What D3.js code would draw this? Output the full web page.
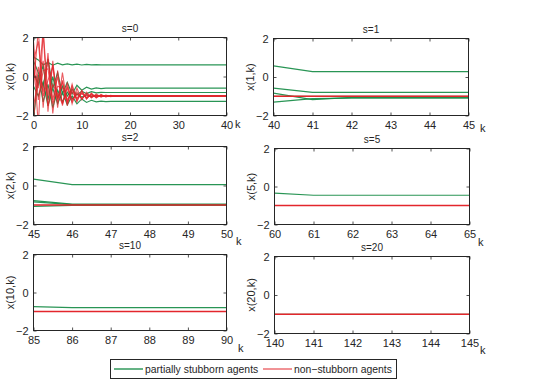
<!DOCTYPE html>
<html>
<head>
<meta charset="utf-8">
<script src="https://cdn.jsdelivr.net/npm/d3@7"></script>
<style>
  body { margin: 0; background: #fff; }
  text { font-family: "Liberation Sans", Arial, Helvetica, sans-serif; fill: #262626; }
</style>
</head>
<body>
<svg id="chart" width="545" height="386"></svg>
<script>
// data
const titles  = ["s=0", "s=1", "s=2", "s=5", "s=10", "s=20"];
const yLabels = ["x(0,k)", "x(1,k)", "x(2,k)", "x(5,k)", "x(10,k)", "x(20,k)"];
const yTicks  = [-2, 0, 2];
const xTicks  = [
  [0, 10, 20, 30, 40],
  [40, 41, 42, 43, 44, 45],
  [45, 46, 47, 48, 49, 50],
  [60, 61, 62, 63, 64, 65],
  [85, 86, 87, 88, 89, 90],
  [140, 141, 142, 143, 144, 145]
];

// k values of each panel
const k0  = [0, 1, 2, 3, 4, 5, 6, 7, 8, 9, 10, 11, 12, 13, 14, 15, 16, 17, 18, 19, 20, 40];
const k1  = [40, 41, 42, 43, 44, 45];
const k2  = [45, 46, 47, 48, 49, 50];
const k5  = [60, 61, 62, 63, 64, 65];
const k10 = [85, 86, 87, 88, 89, 90];
const k20 = [140, 141, 142, 143, 144, 145];

// s=0
const green0 = [
  [1.0, 0.85, 0.6, 0.72, 0.58, 0.68, 0.6, 0.65, 0.6, 0.63, 0.59, 0.62, 0.6, 0.61, 0.6, 0.6, 0.6, 0.6, 0.6, 0.6, 0.6, 0.6],
  [0.8, 0.2, -0.5, 0.9, -0.6, 0.2, -0.9, -0.3, -0.9, -0.45, -0.7, -0.55, -0.65, -0.58, -0.62, -0.6, -0.6, -0.6, -0.6, -0.6, -0.6, -0.6],
  [0.2, -0.4, 0.6, -1.2, 0.0, -1.1, -0.5, -1.0, -0.65, -0.95, -0.75, -0.88, -0.78, -0.84, -0.81, -0.82, -0.82, -0.82, -0.82, -0.82, -0.82, -0.82],
  [-0.5, -1.0, -0.3, -1.5, -0.6, -1.4, -0.8, -1.45, -1.0, -1.4, -1.15, -1.33, -1.22, -1.3, -1.26, -1.29, -1.28, -1.28, -1.28, -1.28, -1.28, -1.28],
  [-2.2, 0.1, -1.3, -0.4, -1.6, -0.7, -1.3, -0.8, -1.15, -0.9, -1.05, -0.95, -1.02, -0.98, -1.0, -1.0, -1.0, -1.0, -1.0, -1.0, -1.0, -1.0]
];
const red0 = [
  [1.0, -2.5, 2.3, -1.8, 0.8, -1.6, 0.2, -1.4, -0.4, -1.3, -0.7, -1.15, -0.85, -1.1, -0.92, -1.05, -0.97, -1.02, -0.99, -1.0, -1.0, -1.0],
  [-0.5, 2.4, -1.6, 1.2, -1.9, 0.3, -1.5, -0.3, -1.4, -0.6, -1.2, -0.8, -1.1, -0.9, -1.06, -0.95, -1.03, -0.98, -1.01, -1.0, -1.0, -1.0],
  [0.3, -0.6, 2.4, -1.0, 0.6, -1.3, -0.2, -1.5, -0.5, -1.25, -0.75, -1.15, -0.88, -1.08, -0.95, -1.04, -0.98, -1.01, -1.0, -1.0, -1.0, -1.0],
  [-2.3, 0.5, -0.8, 0.9, -1.2, 0.0, -1.4, -0.6, -1.3, -0.8, -1.15, -0.9, -1.07, -0.95, -1.03, -0.98, -1.01, -1.0, -1.0, -1.0, -1.0, -1.0],
  [0.8, 1.8, -1.0, -0.2, 0.5, -1.1, -0.3, -1.2, -0.7, -1.1, -0.85, -1.08, -0.93, -1.04, -0.97, -1.02, -0.99, -1.0, -1.0, -1.0, -1.0, -1.0],
  [-1.5, -0.2, 0.8, -1.5, -0.4, -0.9, -1.4, -0.5, -1.2, -0.9, -1.12, -0.93, -1.05, -0.97, -1.02, -0.99, -1.0, -1.0, -1.0, -1.0, -1.0, -1.0],
  [1.8, -1.2, 0.3, 0.4, -1.4, -0.5, -0.6, -1.3, -0.8, -1.15, -0.88, -1.07, -0.95, -1.03, -0.98, -1.01, -1.0, -1.0, -1.0, -1.0, -1.0, -1.0]
];
// s=1
const green1 = [
  [0.58, 0.28, 0.28, 0.28, 0.28, 0.28],
  [-0.58, -0.8, -0.8, -0.8, -0.8, -0.8],
  [-0.84, -1.18, -1.06, -1.06, -1.06, -1.06],
  [-1.31, -1.12, -1.1, -1.1, -1.1, -1.1],
  [-1.0, -1.0, -1.0, -1.0, -1.0, -1.0]
];
const red1 = [[-1.0, -1.0, -1.0, -1.0, -1.0, -1.0]];
// s=2
const green2 = [
  [0.33, 0.05, 0.05, 0.05, 0.05, 0.05],
  [-0.78, -0.95, -0.95, -0.95, -0.95, -0.95],
  [-0.84, -0.98, -0.98, -0.98, -0.98, -0.98],
  [-1.07, -1.02, -1.02, -1.02, -1.02, -1.02]
];
const red2 = [[-1.0, -1.0, -1.0, -1.0, -1.0, -1.0]];
// s=5
const green5 = [
  [-0.35, -0.46, -0.46, -0.46, -0.46, -0.46],
  [-1.0, -1.0, -1.0, -1.0, -1.0, -1.0]
];
const red5 = [[-1.0, -1.0, -1.0, -1.0, -1.0, -1.0]];
// s=10
const green10 = [
  [-0.74, -0.8, -0.8, -0.8, -0.8, -0.8],
  [-1.0, -1.0, -1.0, -1.0, -1.0, -1.0]
];
const red10 = [[-1.0, -1.0, -1.0, -1.0, -1.0, -1.0]];
// s=20
const green20 = [[-1.0, -1.0, -1.0, -1.0, -1.0, -1.0]];
const red20   = [[-1.0, -1.0, -1.0, -1.0, -1.0, -1.0]];

const panelK     = [k0, k1, k2, k5, k10, k20];
const panelGreen = [green0, green1, green2, green5, green10, green20];
const panelRed   = [red0, red1, red2, red5, red10, red20];

const legendLabels = ["partially stubborn agents", "non\u2212stubborn agents"];

// layout: [left, top, right, bottom] in px
const boxes = [
  [33.5, 37.5, 226.5, 115.5],
  [273.5, 38.5, 468.5, 115.5],
  [33.5, 146.5, 226.5, 224.5],
  [274.5, 148.5, 469.5, 224.5],
  [33.5, 254.5, 226.5, 330.5],
  [274.5, 256.5, 469.5, 333.5]
];
const kLabelPos = [[235, 128], [480, 132], [236, 245], [478, 246], [238, 352], [480, 354]];

const GREEN = "#128a43",
      RED   = "#e3262c",
      AXIS  = "#262626";

const svg = d3.select("#chart");
const fmtY = d3.format("d");

boxes.forEach((b, i) => {
  const [x0, y0, x1, y1] = b;
  const ks = panelK[i];
  const x = d3.scaleLinear().domain([xTicks[i][0], xTicks[i][xTicks[i].length - 1]]).range([x0, x1]);
  const y = d3.scaleLinear().domain([-2, 2]).range([y1, y0]);

  const g = svg.append("g");

  g.append("clipPath").attr("id", "clip" + i)
    .append("rect")
      .attr("x", x0).attr("y", y0)
      .attr("width", x1 - x0).attr("height", y1 - y0);

  const line = d3.line()
    .x((d, j) => x(ks[j]))
    .y(d => y(d));

  const plot = g.append("g").attr("clip-path", `url(#clip${i})`);

  plot.selectAll("path.green")
    .data(panelGreen[i])
    .join("path")
      .attr("class", "green")
      .attr("d", line)
      .attr("fill", "none")
      .attr("stroke", GREEN)
      .attr("stroke-width", 1.2)
      .attr("stroke-opacity", 0.9);

  plot.selectAll("path.red")
    .data(panelRed[i])
    .join("path")
      .attr("class", "red")
      .attr("d", line)
      .attr("fill", "none")
      .attr("stroke", RED)
      .attr("stroke-width", i === 0 ? 1.1 : 1.4)
      .attr("stroke-opacity", i === 0 ? 0.75 : 1);

  // axes (inward ticks, box on)
  const bottom = d3.axisBottom(x).tickValues(xTicks[i]).tickSizeInner(-3).tickSizeOuter(0).tickPadding(6)
                   .tickFormat(d3.format("d"));
  const top    = d3.axisTop(x).tickValues(xTicks[i]).tickSizeInner(-3).tickSizeOuter(0).tickFormat("");
  const left   = d3.axisLeft(y).tickValues(yTicks).tickSizeInner(-3).tickSizeOuter(0).tickPadding(5)
                   .tickFormat(d => d < 0 ? "\u2212" + Math.abs(d) : fmtY(d));
  const right  = d3.axisRight(y).tickValues(yTicks).tickSizeInner(-3).tickSizeOuter(0).tickFormat("");

  const axes = [
    g.append("g").attr("transform", `translate(0,${y1})`).call(bottom),
    g.append("g").attr("transform", `translate(0,${y0})`).call(top),
    g.append("g").attr("transform", `translate(${x0},0)`).call(left),
    g.append("g").attr("transform", `translate(${x1},0)`).call(right)
  ];
  axes.forEach(a => {
    a.select(".domain").remove();
    a.selectAll("line").attr("stroke", AXIS).attr("stroke-width", 0.8);
    a.selectAll("text").attr("fill", AXIS).style("font-size", "11px")
      .style("font-family", "'Liberation Sans', Arial, sans-serif");
  });

  g.append("rect")
    .attr("x", x0).attr("y", y0)
    .attr("width", x1 - x0).attr("height", y1 - y0)
    .attr("fill", "none")
    .attr("stroke", AXIS)
    .attr("stroke-width", 1);

  // title
  g.append("text")
    .attr("x", (x0 + x1) / 2)
    .attr("y", y0 - 6)
    .attr("text-anchor", "middle")
    .style("font-size", "10px")
    .text(titles[i]);

  // y label
  g.append("text")
    .attr("transform", `translate(${x0 - 20},${(y0 + y1) / 2}) rotate(-90)`)
    .attr("text-anchor", "middle")
    .style("font-size", "11px")
    .text(yLabels[i]);

  // "k"
  g.append("text")
    .attr("x", kLabelPos[i][0])
    .attr("y", kLabelPos[i][1])
    .style("font-size", "11px")
    .text("k");
});

// legend
const legend = svg.append("g");
legend.append("rect")
  .attr("x", 110.5).attr("y", 359.5)
  .attr("width", 286).attr("height", 19)
  .attr("fill", "#fff")
  .attr("stroke", AXIS)
  .attr("stroke-width", 1);

const legendItems = [
  { label: legendLabels[0], color: GREEN, x: 114 },
  { label: legendLabels[1], color: RED,   x: 263 }
];
legendItems.forEach(it => {
  legend.append("line")
    .attr("x1", it.x).attr("x2", it.x + 29)
    .attr("y1", 369).attr("y2", 369)
    .attr("stroke", it.color)
    .attr("stroke-width", it.color === GREEN ? 1.3 : 1);
  legend.append("text")
    .attr("x", it.x + 31)
    .attr("y", 373)
    .style("font-size", "10.4px")
    .text(it.label);
});
</script>
</body>
</html>
